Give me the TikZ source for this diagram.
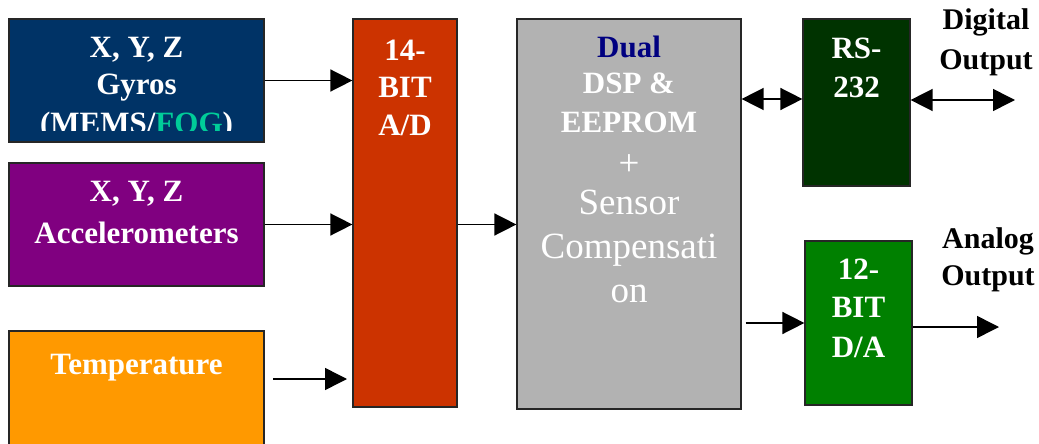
\documentclass[tikz,border=0pt]{standalone}
\usepackage{fontspec}
\setmainfont{Liberation Serif}
\usetikzlibrary{arrows.meta}
\definecolor{gyroc}{HTML}{003366}
\definecolor{accc}{HTML}{800080}
\definecolor{tempc}{HTML}{FF9900}
\definecolor{adc}{HTML}{CC3300}
\definecolor{dspc}{HTML}{B2B2B2}
\definecolor{rsc}{HTML}{003300}
\definecolor{dac}{HTML}{008000}
\definecolor{fogc}{HTML}{00CC99}
\definecolor{dualc}{HTML}{000080}
\begin{document}
\begin{tikzpicture}[x=1pt,y=-1pt,
  blk/.style={draw=black!85, line width=1.2pt, inner sep=0pt, rectangle},
  bt/.style={font=\fontsize{31}{36}\selectfont\bfseries, text=white, inner sep=0pt, anchor=base},
  rt/.style={font=\fontsize{37}{44}\selectfont, text=white, inner sep=0pt, anchor=base},
  lt/.style={font=\fontsize{30}{36}\selectfont\bfseries, text=black, inner sep=0pt, anchor=base},
  arr/.style={line width=1.5pt, -{Triangle[length=22pt,width=22pt]}},
  darr/.style={line width=1.5pt, {Triangle[length=22pt,width=22pt]}-{Triangle[length=22pt,width=22pt]}}]
\useasboundingbox (0,0) rectangle (1039,444);
\clip (0,0) rectangle (1039,444);
% boxes
\node[blk, fill=gyroc, minimum width=255pt, minimum height=123pt] (gyro) at (136.5,80.5) {};
\node[blk, fill=accc, minimum width=255pt, minimum height=123pt] (acc) at (136.5,224.5) {};
\node[blk, fill=tempc, minimum width=255pt, minimum height=139pt] (temp) at (136.5,400.5) {};
\node[blk, fill=adc, minimum width=104pt, minimum height=388pt] (ad) at (405,213) {};
\node[blk, fill=dspc, minimum width=224pt, minimum height=390pt] (dsp) at (629,214) {};
\node[blk, fill=rsc, minimum width=107pt, minimum height=167pt] (rs) at (856.5,102.5) {};
\node[blk, fill=dac, minimum width=107pt, minimum height=164pt] (da) at (858.5,323) {};
% gyro text
\node[bt] (g1) at (136.5,58) {X, Y, Z};
\node[bt] (g2) at (136.5,94) {Gyros};
\begin{scope}
\clip (9,19) rectangle (264,130);
\node[bt] (g3) at (136.5,133) {(MEMS/\textcolor{fogc}{FOG})};
\end{scope}
% accel text
\node[bt] (a1) at (136.5,201) {X, Y, Z};
\node[bt] (a2) at (136.5,243) {Accelerometers};
% temperature
\node[bt] (t1) at (136.5,374) {Temperature};
% A/D
\node[bt] (ad1) at (405,60) {14-};
\node[bt] (ad2) at (405,97) {BIT};
\node[bt] (ad3) at (405,135) {A/D};
% DSP
\node[bt, text=dualc] (d1) at (629,58) {Dual};
\node[bt] (d2) at (629,93) {DSP \&};
\node[bt] (d3) at (629,132) {EEPROM};
\node[rt] (d4) at (629,175) {+};
\node[rt] (d5) at (629,214) {Sensor};
\node[rt] (d6) at (629,258) {Compensati};
\node[rt] (d7) at (629,302) {on};
% RS-232
\node[bt] (r1) at (856.5,59) {RS-};
\node[bt] (r2) at (856.5,98) {232};
% D/A
\node[bt] (da1) at (858.5,279) {12-};
\node[bt] (da2) at (858.5,317) {BIT};
\node[bt] (da3) at (858.5,357) {D/A};
% output labels
\node[lt] (o1) at (986,30) {Digital};
\node[lt] (o2) at (986,70) {Output};
\node[lt] (o3) at (988,248) {Analog};
\node[lt] (o4) at (988,285) {Output};
% connectors
\coordinate (ts) at (273,379);
\coordinate (te) at (347,379);
\coordinate (dout) at (1015,100);
\coordinate (aout) at (999,327);
\draw[arr] (gyro.east) -- (ad.west |- gyro.east);
\draw[arr] (acc.east) -- (ad.west |- acc.east);
\draw[arr] (ts) -- (te);
\draw[arr] (ad.east |- acc.east) -- (dsp.west |- acc.east);
\draw[darr] ([yshift=3.5pt]dsp.east |- rs.west) -- ([yshift=3.5pt]rs.west);
\draw[darr] (rs.east |- dout) -- (dout);
\draw[arr] ([xshift=4pt]dsp.east |- da.west) -- (da.west);
\draw[arr] (da.east |- aout) -- (aout);
\end{tikzpicture}
\end{document}
